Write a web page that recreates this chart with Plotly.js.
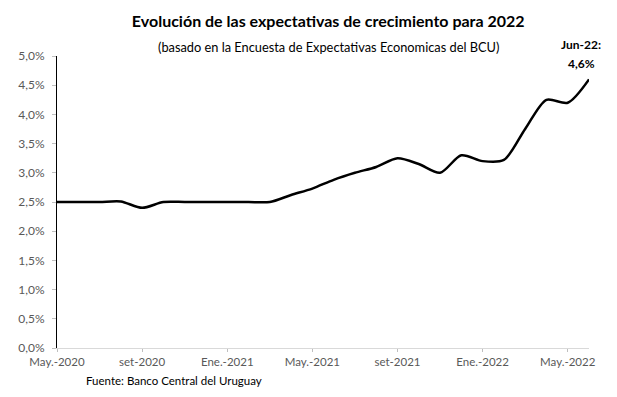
<!DOCTYPE html>
<html>
<head>
<meta charset="utf-8">
<script src="https://cdn.plot.ly/plotly-3.0.1.min.js"></script>
<style>html,body{margin:0;padding:0;background:#fff;}#chart{width:617px;height:397px;}</style>
</head>
<body>
<div id="chart"></div>
<script>
const months = ["May.-2020","Jun.-2020","Jul.-2020","Ago.-2020","set-2020","Oct.-2020","Nov.-2020","Dic.-2020",
  "Ene.-2021","Feb.-2021","Mar.-2021","Abr.-2021","May.-2021","Jun.-2021","Jul.-2021","Ago.-2021","set-2021","Oct.-2021","Nov.-2021","Dic.-2021",
  "Ene.-2022","Feb.-2022","Mar.-2022","Abr.-2022","May.-2022","Jun.-2022"];
const expectativa = [2.5,2.5,2.5,2.51,2.4,2.5,2.5,2.5,
  2.5,2.5,2.5,2.62,2.73,2.88,3.0,3.1,3.25,3.15,3.0,3.3,
  3.2,3.22,3.75,4.25,4.2,4.6];
const tickLabels = ["May.-2020","set-2020","Ene.-2021","May.-2021","set-2021","Ene.-2022","May.-2022"];
const yTicks = [0,0.5,1,1.5,2,2.5,3,3.5,4,4.5,5];
const yTickLabels = ["0,0%","0,5%","1,0%","1,5%","2,0%","2,5%","3,0%","3,5%","4,0%","4,5%","5,0%"];

const font = "Lato, 'Open Sans', sans-serif";
const trace = {
  x: months, y: expectativa, type: 'scatter', mode: 'lines',
  line: {color: '#000', width: 2.5, shape: 'spline', smoothing: 0.8},
  hoverinfo: 'skip'
};
const layout = {
  width: 617, height: 397,
  margin: {l: 57, r: 28, t: 56, b: 49},
  paper_bgcolor: '#fff', plot_bgcolor: '#fff',
  separators: ',.',
  showlegend: false,
  font: {family: font, color: '#595959', size: 11},
  title: {text: 'Evolución de las expectativas de crecimiento para 2022',
    font: {family: font, size: 16, color: '#000', weight: 'bold'},
    x: 0.532, xanchor: 'center', y: 0.945, yanchor: 'middle', xref: 'container', yref: 'container'},
  xaxis: {type: 'category', categoryorder: 'array', categoryarray: months,
    range: [0, months.length - 1], tickvals: tickLabels, ticktext: tickLabels,
    showgrid: false, zeroline: false, showline: true, linecolor: '#d9d9d9', linewidth: 1,
    ticks: 'outside', ticklen: 3, tickcolor: '#bfbfbf', tickfont: {size: 11.5, color: '#595959'}},
  yaxis: {range: [0, 5], tickmode: 'array', tickvals: yTicks, ticktext: yTickLabels,
    showgrid: false, zeroline: false, showline: true, linecolor: '#000', linewidth: 1,
    ticks: 'outside', ticklen: 4, tickcolor: '#bfbfbf', ticklabelstandoff: 5,
    tickfont: {size: 12, color: '#595959'}},
  annotations: [
    {text: '(basado en la Encuesta de Expectativas Economicas del BCU)', xref: 'paper', yref: 'paper',
     x: 0.51, y: 1.03, xanchor: 'center', yanchor: 'middle', showarrow: false,
     font: {family: font, size: 12.8, color: '#000'}},
    {text: '<b>Jun-22:</b>', xref: 'paper', yref: 'paper', x: 0.985, y: 1.04, xanchor: 'center', yanchor: 'middle',
     showarrow: false, font: {family: font, size: 12, color: '#000'}},
    {text: '<b>4,6%</b>', xref: 'paper', yref: 'paper', x: 0.985, y: 0.975, xanchor: 'center', yanchor: 'middle',
     showarrow: false, font: {family: font, size: 12, color: '#000'}},
    {text: 'Fuente: Banco Central del Uruguay', xref: 'paper', yref: 'paper', x: 0.05, y: -0.11,
     xanchor: 'left', yanchor: 'middle', showarrow: false, font: {family: font, size: 11.5, color: '#000'}}
  ]
};
Plotly.newPlot('chart', [trace], layout, {staticPlot: true, displayModeBar: false});
</script>
</body>
</html>
